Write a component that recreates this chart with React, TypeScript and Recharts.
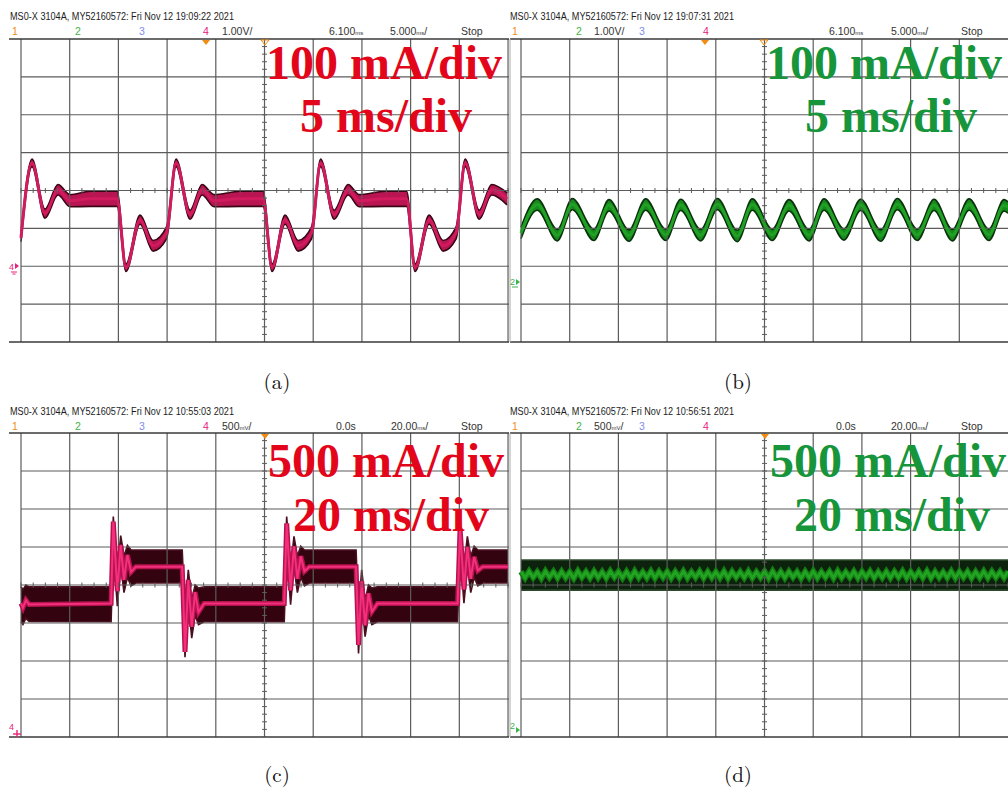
import React from 'react';
import { ComposedChart, Area, Line, XAxis, YAxis, ReferenceLine, Scatter } from 'recharts';

// trace rows: [time ms, band low mA, centre mA, band high mA]
type Row = [number, number, number, number];

// (a) 100 mA/div, 5 ms/div
const A_TRACE: Row[] = [
  [0, 65, 75, 85], [1.13, 263, 273, 283], [2.46, 127, 139, 151], [3.8, 188, 202, 216],
  [5.03, 157, 173, 189], [7.09, 158, 178, 198], [9.86, 158, 178, 198], [10.78, -14, -4, 6],
  [12.22, 111, 123, 135], [13.56, 40, 54, 68], [14.94, 72, 88, 104], [15.92, 263, 273, 283],
  [17.36, 124, 136, 148], [18.59, 188, 202, 216], [19.82, 157, 173, 189], [22.5, 158, 178, 198],
  [24.85, 158, 178, 198], [25.78, -14, -4, 6], [27.11, 111, 123, 135], [28.45, 40, 54, 68],
  [29.83, 72, 88, 104], [30.76, 263, 273, 283], [32.15, 124, 136, 148], [33.58, 188, 202, 216],
  [34.71, 157, 173, 189], [37.38, 158, 178, 198], [39.59, 158, 178, 198], [40.46, -14, -4, 6],
  [41.9, 111, 123, 135], [43.34, 40, 54, 68], [44.67, 72, 88, 104], [45.6, 263, 273, 283],
  [47.04, 124, 136, 148], [48.32, 188, 202, 216], [49.9, 162, 178, 194],
];

// (b) 100 mA/div, 5 ms/div
const B_TRACE: Row[] = [
  [0, 113, 128, 143], [1.67, 188, 203, 218], [3.73, 107, 122, 137], [5.27, 189, 204, 219],
  [7.49, 108, 123, 138], [9.03, 186, 201, 216], [11.09, 106, 121, 136], [12.8, 188, 203, 218],
  [14.86, 108, 123, 138], [16.4, 187, 202, 217], [18.45, 107, 122, 137], [20.16, 189, 204, 219],
  [22.21, 105, 120, 135], [23.75, 188, 203, 218], [25.8, 108, 123, 138], [27.52, 186, 201, 216],
  [29.57, 107, 122, 137], [31.11, 188, 203, 218], [33.16, 109, 124, 139], [34.88, 187, 202, 217],
  [36.93, 106, 121, 136], [38.64, 189, 204, 219], [40.69, 108, 123, 138], [42.41, 187, 202, 217],
  [44.29, 107, 122, 137], [46.0, 188, 203, 218], [48.05, 108, 123, 138], [49.59, 186, 201, 216],
  [50.0, 180, 195, 210],
];

// (c) 500 mA/div, 20 ms/div
const C_TRACE: Row[] = [
  [0, 1516, 1758, 1977], [0.8, 1480, 1700, 1940], [2.0, 1560, 1800, 2000], [3.3, 1520, 1745, 1975],
  [37.0, 1516, 1758, 1977], [37.9, 2480, 2834, 2900], [39.55, 1720, 1920, 2200], [40.95, 2250, 2527, 2650],
  [42.3, 1900, 2066, 2380], [43.7, 2100, 2395, 2520], [45.2, 1990, 2171, 2460], [47.2, 2026, 2241, 2461],
  [66.2, 2026, 2241, 2461], [67.35, 1050, 1120, 1620], [68.7, 1800, 2066, 2200], [70.1, 1300, 1450, 1800],
  [71.5, 1600, 1907, 2000], [72.9, 1480, 1644, 1960], [75.2, 1516, 1758, 1977], [108.1, 1516, 1758, 1977],
  [109.1, 2470, 2810, 2900], [110.7, 1740, 1930, 2220], [112.1, 2240, 2510, 2640], [113.5, 1900, 2080, 2380],
  [114.9, 2100, 2380, 2510], [116.4, 1990, 2180, 2460], [118.4, 2026, 2241, 2461], [137.6, 2026, 2241, 2461],
  [138.6, 1100, 1210, 1640], [139.9, 1800, 2050, 2200], [141.3, 1320, 1470, 1800], [142.7, 1600, 1890, 2000],
  [144.1, 1480, 1650, 1960], [146.4, 1516, 1758, 1977], [179.3, 1516, 1758, 1977], [180.3, 2450, 2750, 2880],
  [181.9, 1760, 1940, 2230], [183.3, 2240, 2500, 2640], [184.7, 1900, 2080, 2380], [186.1, 2100, 2370, 2510],
  [187.6, 1990, 2190, 2460], [189.6, 2026, 2241, 2461], [200, 2026, 2241, 2461],
];

// (d) 500 mA/div, 20 ms/div: ripple centre sampled every half period
const D_STEP_MS = 1.667;
const D_BAND: [number, number] = [1933, 2329];
const D_MID = [
  2176, 2094, 2180, 2098, 2172, 2090, 2182, 2100, 2175, 2092,
  2178, 2096, 2170, 2088, 2184, 2099, 2174, 2093, 2179, 2097,
  2173, 2091, 2181, 2101, 2176, 2094, 2177, 2089, 2183, 2098,
  2172, 2095, 2180, 2092, 2175, 2100, 2178, 2090, 2174, 2096,
  2182, 2093, 2171, 2099, 2179, 2091, 2176, 2097, 2173, 2094,
  2181, 2088, 2177, 2100, 2174, 2095, 2180, 2092, 2172, 2098,
  2178, 2090, 2183, 2096, 2175, 2093, 2179, 2101, 2173, 2089,
  2176, 2097, 2181, 2094, 2174, 2099, 2177, 2091, 2182, 2095,
  2172, 2098, 2179, 2092, 2175, 2100, 2180, 2090, 2173, 2096,
  2178, 2093, 2176, 2099, 2181, 2091, 2174, 2097, 2177, 2094,
  2183, 2089, 2175, 2098, 2172, 2095, 2180, 2092, 2176, 2100,
  2178, 2090, 2174, 2096, 2181, 2093, 2177, 2099, 2173, 2094,
  2179,
];

const GRID = '#5c5c5c';
const FRAME = '#3a3a3a';
const RED = '#e3061b';
const GREEN = '#16953a';
const ORANGE = '#f28c12';
const PINK = '#e8207a';

interface Pt { t: number; band: [number, number]; mid: number }

const toPts = (rows: Row[]): Pt[] => rows.map(([t, lo, mid, hi]) => ({ t, band: [lo, hi], mid }));

interface PanelProps {
  left: number; top: number; width: number; height: number;
  xMin: number; xMax: number; xDiv: number; xLast: number;
  yMin: number; yMax: number; yDiv: number;
  data: Pt[];
  curve: 'monotone' | 'linear';
  bandFill: string; bandStroke: string;
  core: string; coreWidth: number;
  glow?: string; glowWidth?: number;
  leftFrame?: boolean;
}

function Panel(p: PanelProps) {
  const xs: number[] = [];
  for (let k = 0; k * p.xDiv <= p.xLast + 1e-6; k++) xs.push(k * p.xDiv);
  const ys: number[] = [];
  for (let v = p.yMin; v <= p.yMax + 1e-6; v += p.yDiv) ys.push(v);
  const cx = 5 * p.xDiv;
  const cy = p.yMin + 4 * p.yDiv;
  const hTicks: { t: number; v: number }[] = [];
  for (let t = 0; t <= p.xMax; t += p.xDiv / 4) hTicks.push({ t, v: cy });
  const vTicks: { t: number; v: number }[] = [];
  for (let v = p.yMin; v <= p.yMax + 1e-6; v += p.yDiv / 5) vTicks.push({ t: cx, v });

  return (
    <div style={{ position: 'absolute', left: p.left, top: p.top }}>
      <ComposedChart width={p.width} height={p.height} data={p.data}
        margin={{ top: 2, right: 0, bottom: 2, left: p.leftFrame ? 1 : 0 }}>
        <XAxis type="number" dataKey="t" domain={[p.xMin, p.xMax]} allowDataOverflow hide />
        <YAxis type="number" domain={[p.yMin, p.yMax]} allowDataOverflow hide />
        {xs.map(x => <ReferenceLine key={'x' + x} x={x} stroke={GRID} strokeWidth={1.2} ifOverflow="visible" />)}
        {ys.map((y, i) => {
          const edge = i === 0 || i === ys.length - 1;
          return (
            <ReferenceLine key={'y' + y} ifOverflow="visible"
              segment={[{ x: edge ? p.xMin : 0, y }, { x: p.xMax, y }]}
              stroke={edge ? FRAME : GRID} strokeWidth={edge ? 1.6 : 1.2} />
          );
        })}
        {p.leftFrame && <ReferenceLine x={p.xMin} stroke="#b8b8b8" strokeWidth={1.2} ifOverflow="visible" />}
        <Scatter data={hTicks} dataKey="v" isAnimationActive={false}
          shape={(s: any) => <line x1={s.cx} x2={s.cx} y1={s.cy - 2.5} y2={s.cy + 2.5} stroke={GRID} strokeWidth={1} />} />
        <Scatter data={vTicks} dataKey="v" isAnimationActive={false}
          shape={(s: any) => <line x1={s.cx - 2.5} x2={s.cx + 2.5} y1={s.cy} y2={s.cy} stroke={GRID} strokeWidth={1} />} />
        <Area type={p.curve} dataKey="band" fill={p.bandFill} fillOpacity={1} stroke={p.bandStroke}
          strokeWidth={1.6} isAnimationActive={false} />
        {p.glow && <Line type={p.curve} dataKey="mid" stroke={p.glow} strokeWidth={p.glowWidth} dot={false} isAnimationActive={false} />}
        <Line type={p.curve} dataKey="mid" stroke={p.core} strokeWidth={p.coreWidth} dot={false} isAnimationActive={false} />
      </ComposedChart>
    </div>
  );
}

const HDR_FONT = "'Liberation Sans Narrow', 'Liberation Sans', Arial, sans-serif";
const ROW_FONT = "'Liberation Sans', Arial, sans-serif";
const BIG_FONT = "'Liberation Serif', 'Times New Roman', serif";

function Header({ x, y, text }: { x: number; y: number; text: string }) {
  return (
    <text x={x} y={y} fontSize={11} fontFamily={HDR_FONT} fill="#1c1c1c"
      textLength={224} lengthAdjust="spacingAndGlyphs">{text}</text>
  );
}

function Row({ y, items }: { y: number; items: { x: number; s: React.ReactNode; c?: string }[] }) {
  return (
    <g fontSize={10.5} fontFamily={ROW_FONT}>
      {items.map((it, i) => <text key={i} x={it.x} y={y} fill={it.c || '#333'}>{it.s}</text>)}
    </g>
  );
}

const unit = (u: string) => <tspan fontSize={6}>{u}</tspan>;

function Overlay() {
  const big = { fontFamily: BIG_FONT, fontWeight: 700, fontSize: 48 } as const;
  const cap = { fontFamily: "'Latin Modern Roman', 'Liberation Serif', serif", fontSize: 21, textAnchor: 'middle', fill: '#111' } as const;
  return (
    <svg width={1008} height={792} style={{ position: 'absolute', left: 0, top: 0, pointerEvents: 'none' }}>
      <Header x={10} y={19.5} text="MS0-X 3104A, MY52160572: Fri Nov 12 19:09:22 2021" />
      <Header x={510} y={19.5} text="MS0-X 3104A, MY52160572: Fri Nov 12 19:07:31 2021" />
      <Header x={10} y={414.5} text="MS0-X 3104A, MY52160572: Fri Nov 12 10:55:03 2021" />
      <Header x={510} y={414.5} text="MS0-X 3104A, MY52160572: Fri Nov 12 10:56:51 2021" />

      <Row y={34.5} items={[
        { x: 12, s: '1', c: ORANGE }, { x: 75, s: '2', c: '#3fb24a' }, { x: 139, s: '3', c: '#7d8cf0' },
        { x: 203, s: '4', c: PINK }, { x: 222, s: '1.00V/' }, { x: 329, s: <>6.100{unit('ms')}</> },
        { x: 390, s: <>5.000{unit('ms')}/</> }, { x: 461, s: 'Stop' },
      ]} />
      <Row y={34.5} items={[
        { x: 512, s: '1', c: ORANGE }, { x: 576, s: '2', c: '#3fb24a' }, { x: 594, s: '1.00V/' },
        { x: 639, s: '3', c: '#7d8cf0' }, { x: 703, s: '4', c: PINK }, { x: 829, s: <>6.100{unit('ms')}</> },
        { x: 891, s: <>5.000{unit('ms')}/</> }, { x: 961, s: 'Stop' },
      ]} />
      <Row y={429.5} items={[
        { x: 12, s: '1', c: ORANGE }, { x: 75, s: '2', c: '#3fb24a' }, { x: 139, s: '3', c: '#7d8cf0' },
        { x: 203, s: '4', c: PINK }, { x: 222, s: <>500{unit('mV')}/</> }, { x: 336, s: '0.0s' },
        { x: 391, s: <>20.00{unit('ms')}/</> }, { x: 461, s: 'Stop' },
      ]} />
      <Row y={429.5} items={[
        { x: 512, s: '1', c: ORANGE }, { x: 576, s: '2', c: '#3fb24a' }, { x: 594, s: <>500{unit('mV')}/</> },
        { x: 639, s: '3', c: '#7d8cf0' }, { x: 703, s: '4', c: PINK }, { x: 836, s: '0.0s' },
        { x: 891, s: <>20.00{unit('ms')}/</> }, { x: 961, s: 'Stop' },
      ]} />

      {/* trigger markers */}
      <polygon points="202,40 210,40 206,45" fill={ORANGE} />
      <polygon points="261,40 269,40 265,45" fill="none" stroke={ORANGE} strokeWidth={1} />
      <polygon points="701,40 709,40 705,45" fill={ORANGE} />
      <polygon points="760,40 768,40 764,45" fill="none" stroke={ORANGE} strokeWidth={1} />
      <polygon points="261,434 269,434 265,439" fill={ORANGE} />
      <polygon points="761,434 769,434 765,439" fill={ORANGE} />

      {/* ground markers */}
      <text x={9} y={270} fontSize={9} fill={PINK} fontFamily={ROW_FONT}>4</text>
      <polygon points="15,263 15,269 19,266" fill={PINK} />
      <line x1={11} x2={17} y1={272} y2={272} stroke={PINK} />
      <line x1={12.5} x2={15.5} y1={274} y2={274} stroke={PINK} />
      <text x={510} y={285} fontSize={9} fill="#3fb24a" fontFamily={ROW_FONT}>2</text>
      <polygon points="516,279 516,285 520,282" fill="#3fb24a" />
      <line x1={512} x2={518} y1={287} y2={287} stroke="#3fb24a" />
      <text x={9} y={730} fontSize={9} fill={PINK} fontFamily={ROW_FONT}>4</text>
      <line x1={13} x2={21} y1={734} y2={734} stroke={PINK} strokeWidth={1.4} />
      <line x1={17} x2={17} y1={730} y2={737} stroke={PINK} strokeWidth={1.4} />
      <text x={510} y={729} fontSize={9} fill="#3fb24a" fontFamily={ROW_FONT}>2</text>
      <polygon points="516,727 516,733 520,730" fill="#3fb24a" />

      {/* scale annotations */}
      <text x={266} y={79} fill={RED} {...big}>100 mA/div</text>
      <text x={300} y={132} fill={RED} {...big}>5 ms/div</text>
      <text x={766} y={79} fill={GREEN} {...big}>100 mA/div</text>
      <text x={805} y={132} fill={GREEN} {...big}>5 ms/div</text>
      <text x={268} y={477} fill={RED} {...big}>500 mA/div</text>
      <text x={293} y={531} fill={RED} {...big}>20 ms/div</text>
      <text x={770} y={477} fill={GREEN} {...big}>500 mA/div</text>
      <text x={794} y={531} fill={GREEN} {...big}>20 ms/div</text>

      <text x={277} y={389} {...cap}>(a)</text>
      <text x={738} y={389} {...cap}>(b)</text>
      <text x={277} y={782} {...cap}>(c)</text>
      <text x={738} y={782} {...cap}>(d)</text>
    </svg>
  );
}

export default function App() {
  const dData: Pt[] = D_MID.map((mid, i) => ({ t: i * D_STEP_MS, band: D_BAND, mid }));
  return (
    <div style={{ position: 'absolute', left: 0, top: 0, width: 1008, height: 792, background: '#fff' }}>
      <Panel left={9} top={37} width={500} height={307}
        xMin={-1.232} xMax={50.1} xDiv={5} xLast={50} yMin={-200} yMax={600} yDiv={100}
        data={toPts(A_TRACE)} curve="monotone"
        bandFill="#b81552" bandStroke="#3a0615" core="#d21a5e" coreWidth={3} />
      <Panel left={509} top={37} width={499} height={307} leftFrame
        xMin={-1.129} xMax={50} xDiv={5} xLast={45} yMin={-160} yMax={640} yDiv={100}
        data={toPts(B_TRACE)} curve="monotone"
        bandFill="#178a1c" bandStroke="#0a320c" core="#20a024" coreWidth={3} />
      <Panel left={9} top={431} width={500} height={308}
        xMin={-4.93} xMax={200.4} xDiv={20} xLast={200} yMin={0} yMax={4000} yDiv={500}
        data={toPts(C_TRACE)} curve="linear"
        bandFill="#33040f" bandStroke="#4a1020" core="#f4307e" coreWidth={2} glow="#b8124e" glowWidth={5} />
      <Panel left={509} top={431} width={499} height={308} leftFrame
        xMin={-4.52} xMax={200} xDiv={20} xLast={180} yMin={0} yMax={4000} yDiv={500}
        data={dData} curve="linear"
        bandFill="#0c220c" bandStroke="#2c4a2c" core="#22a322" coreWidth={3} glow="#137a13" glowWidth={6} />
      <Overlay />
    </div>
  );
}
